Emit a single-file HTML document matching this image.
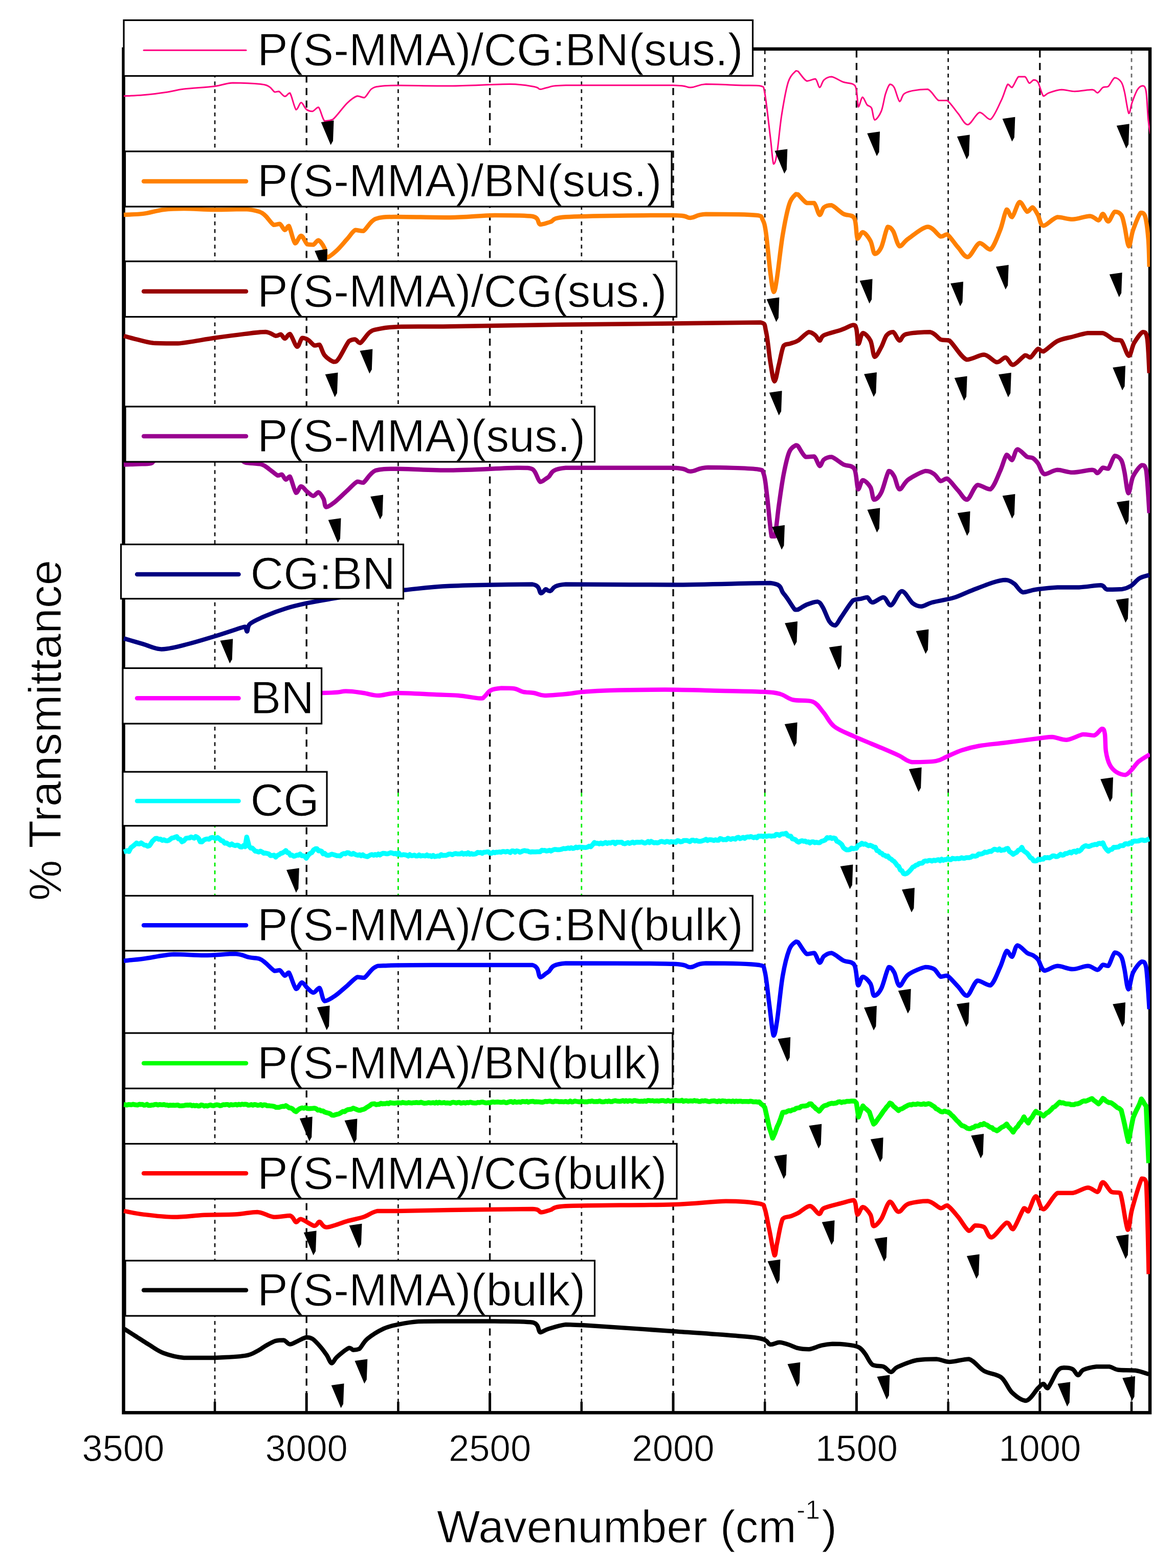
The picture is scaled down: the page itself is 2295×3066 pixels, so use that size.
<!DOCTYPE html><html><head><meta charset="utf-8"><style>html,body{margin:0;padding:0;background:#fff;overflow:hidden;}svg{display:block;}text{font-family:"Liberation Sans",Arial,sans-serif;stroke:#fff;stroke-width:1px;}</style></head><body>
<svg width="2295" height="3066" viewBox="0 0 2295 3066">
<rect x="0" y="0" width="2295" height="3066" fill="#fff"/>
<g><line x1="599.2" y1="98.5" x2="599.2" y2="2759" stroke="#111" stroke-width="3.4" stroke-dasharray="14 10.5"/><line x1="957.6" y1="98.5" x2="957.6" y2="2759" stroke="#111" stroke-width="3.4" stroke-dasharray="14 10.5"/><line x1="1316.0" y1="98.5" x2="1316.0" y2="2759" stroke="#111" stroke-width="3.4" stroke-dasharray="14 10.5"/><line x1="1674.4" y1="98.5" x2="1674.4" y2="2759" stroke="#111" stroke-width="3.4" stroke-dasharray="14 10.5"/><line x1="2032.8" y1="98.5" x2="2032.8" y2="2759" stroke="#111" stroke-width="3.4" stroke-dasharray="14 10.5"/><line x1="420.0" y1="98.5" x2="420.0" y2="1550.0" stroke="#1a1a1a" stroke-width="2.8" stroke-dasharray="7.5 7.7"/><line x1="420.0" y1="1550.0" x2="420.0" y2="1792.5" stroke="#00ee00" stroke-width="2.8" stroke-dasharray="7.5 7.7"/><line x1="420.0" y1="1792.5" x2="420.0" y2="2759" stroke="#1a1a1a" stroke-width="2.8" stroke-dasharray="7.5 7.7"/><line x1="778.4" y1="98.5" x2="778.4" y2="1550.0" stroke="#1a1a1a" stroke-width="2.8" stroke-dasharray="7.5 7.7"/><line x1="778.4" y1="1550.0" x2="778.4" y2="1792.5" stroke="#00ee00" stroke-width="2.8" stroke-dasharray="7.5 7.7"/><line x1="778.4" y1="1792.5" x2="778.4" y2="2759" stroke="#1a1a1a" stroke-width="2.8" stroke-dasharray="7.5 7.7"/><line x1="1136.8" y1="98.5" x2="1136.8" y2="1550.0" stroke="#1a1a1a" stroke-width="2.8" stroke-dasharray="7.5 7.7"/><line x1="1136.8" y1="1550.0" x2="1136.8" y2="1792.5" stroke="#00ee00" stroke-width="2.8" stroke-dasharray="7.5 7.7"/><line x1="1136.8" y1="1792.5" x2="1136.8" y2="2759" stroke="#1a1a1a" stroke-width="2.8" stroke-dasharray="7.5 7.7"/><line x1="1495.2" y1="98.5" x2="1495.2" y2="1550.0" stroke="#1a1a1a" stroke-width="2.8" stroke-dasharray="7.5 7.7"/><line x1="1495.2" y1="1550.0" x2="1495.2" y2="1792.5" stroke="#00ee00" stroke-width="2.8" stroke-dasharray="7.5 7.7"/><line x1="1495.2" y1="1792.5" x2="1495.2" y2="2759" stroke="#1a1a1a" stroke-width="2.8" stroke-dasharray="7.5 7.7"/><line x1="1853.6" y1="98.5" x2="1853.6" y2="1550.0" stroke="#1a1a1a" stroke-width="2.8" stroke-dasharray="7.5 7.7"/><line x1="1853.6" y1="1550.0" x2="1853.6" y2="1792.5" stroke="#00ee00" stroke-width="2.8" stroke-dasharray="7.5 7.7"/><line x1="1853.6" y1="1792.5" x2="1853.6" y2="2759" stroke="#1a1a1a" stroke-width="2.8" stroke-dasharray="7.5 7.7"/><line x1="2212.0" y1="98.5" x2="2212.0" y2="1550.0" stroke="#6a6a6a" stroke-width="2.8" stroke-dasharray="7.5 7.7"/><line x1="2212.0" y1="1550.0" x2="2212.0" y2="1792.5" stroke="#00ee00" stroke-width="2.8" stroke-dasharray="7.5 7.7"/><line x1="2212.0" y1="1792.5" x2="2212.0" y2="2759" stroke="#6a6a6a" stroke-width="2.8" stroke-dasharray="7.5 7.7"/></g>
<rect x="241.5" y="95.8" width="2006.5" height="2666.5" fill="none" stroke="#000" stroke-width="6.5"/>
<g><line x1="599.2" y1="2724" x2="599.2" y2="2762" stroke="#000" stroke-width="5"/><line x1="957.6" y1="2724" x2="957.6" y2="2762" stroke="#000" stroke-width="5"/><line x1="1316.0" y1="2724" x2="1316.0" y2="2762" stroke="#000" stroke-width="5"/><line x1="1674.4" y1="2724" x2="1674.4" y2="2762" stroke="#000" stroke-width="5"/><line x1="2032.8" y1="2724" x2="2032.8" y2="2762" stroke="#000" stroke-width="5"/><line x1="420.0" y1="2741" x2="420.0" y2="2762" stroke="#000" stroke-width="4.5"/><line x1="778.4" y1="2741" x2="778.4" y2="2762" stroke="#000" stroke-width="4.5"/><line x1="1136.8" y1="2741" x2="1136.8" y2="2762" stroke="#000" stroke-width="4.5"/><line x1="1495.2" y1="2741" x2="1495.2" y2="2762" stroke="#000" stroke-width="4.5"/><line x1="1853.6" y1="2741" x2="1853.6" y2="2762" stroke="#000" stroke-width="4.5"/><line x1="2212.0" y1="2741" x2="2212.0" y2="2762" stroke="#000" stroke-width="4.5"/></g>
<g clip-path="url(#plotclip)">
<path d="M242.0,187.8C248.3,187.5 265.7,187.1 280.0,185.8C294.3,184.5 314.4,181.9 327.7,179.9C341.0,177.9 344.3,175.8 359.6,173.9C374.9,172.0 403.5,170.7 419.4,168.7C435.3,166.7 439.9,162.6 455.2,161.9C470.5,161.9 499.0,163.3 511.0,164.7C523.0,166.0 522.7,167.4 527.0,170.0C531.3,172.6 534.0,178.6 537.0,180.0C540.0,180.0 541.7,178.7 545.0,178.7C548.3,180.1 553.3,188.1 556.9,188.6C560.5,188.6 563.1,181.8 566.8,181.8C570.4,186.1 575.1,211.4 578.8,214.5C582.4,214.5 585.4,200.7 588.7,200.6C592.0,200.6 595.0,210.8 598.7,213.7C602.4,216.5 606.7,217.7 610.7,217.7C614.7,217.0 618.6,209.7 622.6,209.7C626.6,212.9 630.0,232.8 634.6,236.8C639.2,236.8 643.2,236.8 650.5,233.7C657.8,227.9 670.4,209.5 678.4,201.8C686.4,194.2 692.6,189.6 698.3,187.8C703.9,187.8 707.6,191.0 712.3,191.0C717.0,188.7 721.3,177.6 726.3,173.9C731.3,170.2 733.6,169.8 742.2,168.7C750.8,167.5 755.0,167.1 778.0,167.0C801.0,167.0 843.5,168.0 880.0,168.0C916.5,167.6 969.5,164.6 997.0,164.6C1024.5,164.9 1035.2,168.1 1045.0,169.8C1054.8,171.5 1051.7,174.4 1056.0,174.6C1060.3,174.6 1062.7,172.3 1071.0,171.0C1079.3,169.7 1071.0,167.4 1106.0,166.7C1146.7,166.7 1274.4,166.7 1315.0,166.7C1349.6,167.4 1338.8,171.0 1349.6,171.0C1360.4,170.7 1364.1,165.3 1380.0,164.6C1395.9,164.6 1427.2,166.1 1445.0,166.7C1462.8,167.3 1478.2,166.7 1486.5,168.0C1494.8,170.6 1491.8,168.0 1495.0,182.0C1498.2,198.8 1503.1,245.9 1506.0,269.0C1508.9,292.1 1510.0,315.7 1512.2,320.7C1514.4,320.7 1516.4,314.9 1519.0,299.0C1521.6,283.1 1524.3,248.2 1528.0,225.0C1531.7,201.8 1536.3,174.4 1541.0,160.0C1545.7,145.6 1552.8,141.9 1556.0,138.5C1559.2,138.5 1556.5,138.5 1560.0,139.4C1563.5,142.7 1571.4,155.9 1577.0,158.4C1582.6,158.4 1589.6,154.2 1593.8,154.2C1598.0,156.3 1599.5,170.7 1602.3,171.0C1605.1,171.0 1606.8,159.8 1610.7,156.3C1614.6,152.8 1619.2,150.0 1625.5,150.0C1631.8,150.7 1641.8,158.1 1648.8,160.5C1655.8,162.9 1663.6,162.2 1667.8,164.7C1672.0,167.2 1672.2,167.9 1674.0,175.3C1675.8,182.7 1676.3,206.6 1678.3,209.0C1680.3,209.0 1683.2,190.7 1686.0,190.0C1688.8,190.0 1692.0,201.4 1695.0,204.9C1698.0,208.4 1701.2,206.3 1703.7,211.2C1706.2,216.1 1706.8,233.4 1710.0,234.5C1713.2,234.5 1719.2,226.0 1722.7,217.6C1726.2,209.2 1728.2,192.6 1731.0,183.8C1733.8,175.0 1736.8,166.8 1739.6,164.7C1742.4,164.7 1744.8,165.4 1748.0,171.0C1751.2,176.6 1755.4,196.4 1758.6,198.5C1761.8,198.5 1762.8,187.3 1767.0,183.8C1771.2,180.3 1776.2,179.0 1784.0,177.4C1791.8,175.8 1805.1,174.5 1813.6,174.5C1822.0,177.7 1828.4,192.8 1834.7,196.4C1841.0,196.4 1845.2,196.4 1851.6,196.4C1857.9,200.6 1866.1,213.9 1872.8,221.8C1879.5,229.7 1884.8,243.8 1891.8,243.8C1898.8,243.5 1907.6,221.4 1915.0,219.7C1922.4,219.7 1929.0,233.6 1936.0,233.6C1943.0,229.7 1951.6,207.9 1957.3,196.4C1963.0,184.9 1966.5,168.9 1970.0,164.7C1973.5,164.7 1974.9,171.0 1978.4,171.0C1981.9,168.6 1986.8,153.5 1991.0,150.0C1995.2,150.0 2000.3,150.0 2003.8,150.0C2007.3,152.1 2009.4,161.5 2012.2,162.6C2015.0,162.6 2017.9,156.7 2020.7,156.3C2023.5,156.3 2025.8,156.3 2029.0,160.5C2032.2,165.8 2036.2,184.5 2039.7,188.0C2043.2,188.0 2044.3,183.7 2050.3,181.6C2056.3,179.5 2067.2,175.8 2075.6,175.3C2084.0,175.3 2091.1,178.7 2101.0,178.7C2110.9,178.7 2127.4,175.3 2134.8,175.3C2142.2,175.8 2141.9,181.6 2145.4,181.6C2148.9,180.9 2152.5,173.1 2156.0,171.0C2159.5,169.0 2162.6,171.0 2166.5,169.0C2170.4,165.8 2175.0,153.4 2179.2,152.0C2183.4,152.0 2188.7,155.9 2191.9,160.5C2195.1,165.1 2195.7,169.3 2198.2,179.5C2200.7,189.7 2204.2,218.3 2206.7,221.8C2209.2,221.8 2210.2,208.4 2213.0,200.7C2215.8,192.9 2220.1,180.8 2223.6,175.3C2227.1,169.8 2231.2,167.7 2234.0,167.7C2236.8,168.4 2238.7,168.4 2240.5,179.5C2242.3,190.6 2243.3,220.8 2244.7,234.5C2246.1,248.2 2248.3,257.4 2249.0,262.0" fill="none" stroke="#FF0080" stroke-width="3.0" stroke-linejoin="round" stroke-linecap="butt"/>
<path d="M242.0,419.9C248.3,419.6 266.9,419.5 279.9,417.9C292.8,416.2 306.4,411.6 319.7,410.0C333.0,408.4 343.0,408.0 359.6,408.0C376.2,408.0 399.5,409.8 419.4,410.0C439.3,410.0 464.4,409.0 479.0,409.0C493.6,409.7 500.3,411.8 507.0,414.0C513.7,416.2 514.3,417.7 519.0,422.0C523.7,426.3 530.3,437.2 535.0,439.8C539.7,439.8 543.4,437.8 547.0,437.8C550.6,439.5 553.9,449.1 556.9,449.8C559.9,449.8 561.5,441.8 564.8,441.8C568.1,446.1 572.8,472.5 576.8,475.7C580.8,475.7 584.7,461.0 588.7,461.0C592.7,461.3 596.7,474.8 600.7,477.7C604.7,478.5 609.0,478.5 612.6,478.5C616.2,477.2 618.9,469.7 622.6,469.7C626.3,470.9 631.9,480.0 634.6,485.7C637.3,491.4 634.6,503.0 638.6,503.6C642.6,503.6 651.9,495.6 658.5,489.6C665.1,483.6 672.4,474.3 678.4,467.7C684.4,461.1 689.1,452.4 694.4,449.8C699.7,449.8 703.7,451.8 710.3,451.8C716.9,448.1 722.9,432.5 734.2,427.9C745.5,423.9 753.7,424.3 778.0,423.9C802.3,423.9 848.5,425.2 880.0,425.2C911.5,424.7 940.2,421.3 967.0,420.9C993.8,420.9 1026.2,420.9 1041.0,423.0C1055.8,426.0 1050.2,437.2 1056.0,439.0C1061.8,439.0 1067.4,436.4 1075.7,434.0C1084.0,431.6 1075.7,426.5 1106.0,424.3C1145.8,422.1 1274.2,420.9 1314.8,420.9C1349.6,421.2 1338.7,426.0 1349.6,426.0C1360.5,425.6 1358.3,419.6 1380.0,418.7C1401.7,418.7 1461.5,419.1 1480.0,420.9C1490.9,422.7 1488.0,423.8 1490.9,429.6C1493.8,435.4 1494.9,438.2 1497.4,455.6C1499.9,473.0 1503.5,514.7 1506.0,533.9C1508.5,553.1 1510.4,569.4 1512.6,570.9C1514.8,570.9 1516.1,561.1 1519.0,542.6C1521.9,524.1 1526.0,483.9 1530.0,460.0C1534.0,436.1 1538.7,412.4 1543.0,399.0C1547.3,385.6 1553.2,382.7 1556.0,379.6C1558.8,379.6 1556.5,379.6 1560.0,380.2C1563.5,383.1 1571.7,394.2 1577.0,397.0C1582.3,397.0 1587.5,397.0 1591.7,397.0C1595.9,400.9 1599.1,418.9 1602.3,420.3C1605.5,420.3 1606.8,408.7 1610.7,405.5C1614.6,402.3 1619.2,401.3 1625.5,401.3C1631.8,403.4 1641.4,414.0 1648.8,418.2C1656.2,422.4 1665.4,418.5 1670.0,426.6C1674.6,434.7 1673.4,462.2 1676.2,466.8C1679.0,466.8 1682.6,454.1 1686.8,454.1C1691.0,454.8 1697.7,463.9 1701.6,471.0C1705.5,478.1 1706.5,494.3 1710.0,496.4C1713.5,496.4 1718.5,492.5 1722.7,483.7C1726.9,474.9 1731.5,448.9 1735.4,443.6C1739.3,443.6 1742.1,445.7 1746.0,452.0C1749.9,458.3 1753.7,479.1 1758.6,481.6C1763.5,481.6 1766.4,473.1 1775.6,466.8C1784.8,460.5 1803.0,444.3 1813.6,443.6C1824.2,443.6 1832.7,460.2 1839.0,462.6C1845.3,462.6 1846.0,458.3 1851.6,458.3C1857.2,461.8 1866.1,476.3 1872.8,483.7C1879.5,491.1 1884.8,502.7 1891.8,502.7C1898.8,501.3 1907.6,477.6 1915.0,475.2C1922.4,475.2 1929.3,488.0 1936.0,488.0C1942.7,483.8 1949.9,462.9 1955.2,449.9C1960.5,436.8 1964.0,413.9 1967.9,409.7C1971.8,409.7 1974.2,424.5 1978.4,424.5C1982.6,422.1 1988.3,396.8 1993.2,395.0C1998.1,395.0 2003.8,412.2 2008.0,414.0C2012.2,414.0 2015.1,405.5 2018.6,405.5C2022.1,406.6 2025.5,414.3 2029.0,420.3C2032.5,426.3 2033.3,440.7 2039.7,441.4C2046.1,441.4 2057.7,426.6 2067.2,424.5C2076.7,424.5 2086.2,428.8 2096.8,428.8C2107.4,428.4 2122.2,422.4 2130.6,422.4C2139.0,422.8 2143.3,430.9 2147.5,430.9C2151.7,430.2 2152.8,418.2 2156.0,418.2C2159.2,418.6 2162.6,433.0 2166.5,433.0C2170.4,432.3 2175.0,416.1 2179.2,414.0C2183.4,414.0 2188.7,415.7 2191.9,420.3C2195.1,424.9 2195.7,431.2 2198.2,441.4C2200.7,451.6 2203.9,480.2 2206.7,481.6C2209.5,481.6 2211.1,460.8 2215.0,449.9C2218.9,439.0 2226.0,420.6 2229.9,416.0C2233.8,416.0 2235.9,416.0 2238.4,422.4C2240.9,430.9 2243.3,450.2 2244.7,466.8C2246.1,483.4 2246.5,512.6 2246.8,521.7" fill="none" stroke="#FF8000" stroke-width="8.5" stroke-linejoin="round" stroke-linecap="butt"/>
<path d="M242.0,656.8C245.7,657.8 254.3,660.5 263.9,662.8C273.5,665.1 285.9,669.3 299.8,670.8C313.8,671.6 327.7,671.6 347.6,671.6C367.5,669.9 397.5,663.9 419.4,660.8C441.3,657.7 462.4,654.9 479.0,652.9C495.6,650.9 509.0,648.9 519.0,648.9C529.0,649.5 534.0,656.0 539.0,656.8C544.0,656.8 545.9,653.7 548.9,653.7C551.9,654.6 553.9,662.0 556.9,662.0C559.9,661.9 562.8,652.9 566.8,652.9C570.8,655.6 576.8,676.7 580.8,678.0C584.8,678.0 587.1,663.0 590.7,660.8C594.4,660.8 598.7,662.3 602.7,664.8C606.7,667.3 611.0,674.1 614.6,675.6C618.2,675.6 621.3,674.0 624.6,674.0C627.9,677.2 630.0,689.1 634.6,694.7C639.2,700.3 647.9,706.5 652.5,707.5C657.1,707.5 657.5,707.5 662.5,700.7C667.5,693.9 677.1,673.0 682.4,666.8C687.7,663.6 690.8,663.6 694.4,663.6C698.0,664.3 699.6,670.8 704.3,670.8C708.9,668.5 716.6,654.5 722.3,650.0C727.9,645.5 728.9,645.6 738.2,643.7C747.5,641.9 754.4,639.8 778.0,638.9C801.6,638.3 826.8,638.9 880.0,638.3C933.2,637.6 1024.5,635.8 1097.0,634.8C1169.5,633.8 1249.9,633.3 1314.8,632.6C1379.7,631.9 1456.1,630.4 1486.5,630.4C1497.4,632.9 1494.2,634.8 1497.4,647.8C1500.7,660.8 1503.2,692.4 1506.0,708.7C1508.8,725.0 1511.2,745.0 1514.0,745.7C1516.8,745.7 1519.6,724.6 1522.6,713.0C1525.6,701.4 1528.3,682.9 1532.0,676.0C1535.7,671.7 1540.3,673.4 1545.0,671.7C1549.7,670.0 1554.0,669.8 1560.0,666.0C1566.0,662.2 1575.4,651.0 1581.0,649.2C1586.6,649.2 1590.2,652.7 1593.8,655.5C1597.3,658.3 1599.5,666.0 1602.3,666.0C1605.1,666.0 1603.7,659.0 1610.7,655.5C1617.7,652.0 1635.0,648.3 1644.5,645.0C1654.0,641.7 1662.9,636.0 1667.8,635.6C1672.7,635.6 1672.2,636.7 1674.0,642.8C1675.8,648.9 1676.2,671.0 1678.3,672.4C1680.4,672.4 1682.9,652.4 1686.8,651.3C1690.7,651.3 1697.7,658.2 1701.6,666.0C1705.5,673.8 1706.5,695.7 1710.0,697.8C1713.5,697.8 1718.8,685.8 1722.7,678.8C1726.6,671.8 1729.4,660.4 1733.3,655.5C1737.2,650.6 1741.8,649.2 1746.0,649.2C1750.2,651.0 1754.4,665.3 1758.6,666.0C1762.8,666.0 1761.4,656.2 1771.3,653.4C1781.2,650.6 1806.5,649.2 1817.8,649.2C1829.1,651.0 1832.7,661.2 1839.0,664.0C1845.3,666.0 1847.5,664.0 1855.9,666.0C1864.4,672.5 1878.4,698.7 1889.7,703.3C1901.0,703.3 1913.7,693.5 1923.5,693.5C1933.3,694.3 1941.8,707.4 1948.8,708.3C1955.8,708.3 1960.4,699.0 1965.7,699.0C1971.0,699.9 1974.2,713.4 1980.5,713.4C1986.8,712.7 1998.2,697.2 2003.8,694.8C2009.4,694.8 2010.1,699.0 2014.3,699.0C2018.5,696.9 2024.9,684.1 2029.1,682.1C2033.3,682.1 2033.4,687.2 2039.7,687.2C2046.0,684.7 2057.7,671.7 2067.2,666.9C2076.7,662.1 2086.9,661.1 2096.8,658.5C2106.7,655.9 2116.5,652.5 2126.4,651.3C2136.3,651.3 2147.6,651.3 2156.0,651.3C2164.4,653.4 2171.0,661.5 2177.0,664.0C2183.0,666.0 2187.0,664.0 2191.9,666.0C2196.8,671.3 2202.5,695.0 2206.7,695.7C2210.9,695.7 2212.6,678.0 2217.2,670.3C2221.8,662.5 2229.9,650.6 2234.1,649.2C2238.3,649.2 2240.5,649.2 2242.6,661.8C2244.7,675.2 2246.1,718.2 2246.8,729.5" fill="none" stroke="#990000" stroke-width="8.5" stroke-linejoin="round" stroke-linecap="butt"/>
<path d="M242.0,908.5C246.7,908.3 261.2,907.9 270.0,907.5C278.8,907.1 288.3,907.4 295.0,906.0C301.7,904.6 295.0,900.3 310.0,899.0C337.5,898.0 431.7,898.0 460.0,898.0C480.0,898.9 471.5,902.8 480.0,904.5C488.5,906.2 503.2,905.8 511.0,908.0C518.8,910.2 521.7,914.3 527.0,917.9C532.3,921.5 538.9,928.1 542.9,929.8C546.9,929.8 548.2,927.8 550.9,927.8C553.5,929.1 556.1,937.1 558.8,937.8C561.4,937.8 563.5,931.8 566.8,931.8C570.1,936.1 575.1,960.5 578.8,963.7C582.4,963.7 585.1,951.2 588.7,950.9C592.4,950.9 596.7,958.6 600.7,961.7C604.7,964.8 609.0,969.6 612.6,969.7C616.2,969.7 619.3,962.5 622.6,962.5C625.9,963.5 630.1,970.9 632.6,975.7C635.1,980.6 634.1,990.6 637.8,991.6C641.4,991.6 647.7,986.9 654.5,981.6C661.3,976.3 671.1,966.3 678.4,959.7C685.7,953.1 693.0,944.4 698.3,941.8C703.6,941.8 704.3,943.8 710.3,943.8C716.3,940.1 722.9,924.4 734.2,919.9C745.5,916.7 753.7,916.8 778.0,916.7C802.3,916.7 841.3,919.6 880.0,919.6C918.7,919.3 983.6,915.2 1010.4,914.8C1037.2,914.8 1033.4,914.8 1041.0,917.4C1048.6,922.0 1051.0,939.5 1056.0,942.2C1061.0,942.2 1063.0,938.1 1071.3,933.5C1079.6,928.9 1071.3,917.9 1106.0,914.8C1146.6,914.8 1274.2,914.8 1314.8,914.8C1349.6,915.9 1338.0,921.7 1349.6,921.7C1361.2,921.6 1362.6,914.7 1384.3,914.0C1406.0,914.0 1461.9,915.2 1480.0,917.4C1493.0,919.6 1489.7,918.2 1493.0,927.0C1496.3,935.8 1497.0,950.1 1499.6,970.4C1502.1,990.7 1505.8,1035.7 1508.3,1048.7C1510.8,1048.7 1512.4,1048.7 1514.8,1048.7C1517.2,1038.5 1519.7,1008.1 1522.6,987.8C1525.5,967.5 1528.6,944.4 1532.0,927.0C1535.4,909.6 1539.0,892.9 1543.0,883.5C1547.0,874.1 1553.2,872.3 1556.0,870.4C1558.8,870.4 1556.9,870.4 1560.0,872.3C1563.1,876.1 1569.5,890.0 1574.8,893.4C1580.1,893.4 1587.1,892.6 1591.7,892.6C1596.3,895.6 1599.1,910.2 1602.3,911.2C1605.5,911.2 1606.8,901.5 1610.7,898.5C1614.6,895.5 1619.2,893.4 1625.5,893.4C1631.8,895.0 1641.4,904.3 1648.8,908.2C1656.2,912.1 1665.2,908.5 1670.0,916.6C1674.8,924.7 1674.7,953.1 1677.5,956.8C1680.3,956.8 1682.8,939.7 1686.8,939.0C1690.8,939.0 1697.9,946.2 1701.6,952.6C1705.3,959.0 1705.3,975.4 1708.8,977.1C1712.3,977.1 1717.9,972.5 1722.7,963.1C1727.5,953.7 1733.3,926.2 1737.5,920.9C1741.7,920.9 1744.5,925.4 1748.0,931.4C1751.5,937.4 1754.0,955.7 1758.6,956.8C1763.2,956.8 1767.1,943.8 1775.6,937.8C1784.1,931.8 1801.0,922.7 1809.4,920.9C1817.9,920.9 1821.4,923.9 1826.3,927.2C1831.2,930.5 1834.8,939.3 1839.0,940.7C1843.2,940.7 1846.0,935.7 1851.6,935.7C1857.2,938.7 1866.3,952.0 1872.8,958.9C1879.3,965.8 1884.2,977.1 1890.5,977.1C1896.8,975.3 1903.2,951.7 1910.8,948.3C1918.4,948.3 1928.6,956.8 1936.0,956.8C1943.4,952.2 1949.9,932.2 1955.2,920.9C1960.5,909.6 1964.0,892.7 1967.9,889.2C1971.8,889.2 1974.9,899.7 1978.4,899.7C1981.9,897.9 1984.1,879.7 1989.0,878.6C1993.9,878.6 2003.1,890.6 2008.0,893.4C2012.9,895.5 2015.1,893.4 2018.6,895.5C2022.1,897.6 2025.2,900.7 2029.1,906.0C2033.0,911.3 2035.5,925.1 2041.8,927.2C2048.2,927.2 2058.0,919.4 2067.2,918.8C2076.4,918.8 2085.5,923.8 2096.8,923.8C2108.1,923.8 2126.7,918.8 2134.8,918.8C2142.9,919.0 2141.9,925.1 2145.4,925.1C2148.9,924.4 2152.5,915.9 2156.0,914.5C2159.5,914.5 2162.6,916.6 2166.5,916.6C2170.4,912.7 2175.0,894.1 2179.2,891.3C2183.4,891.3 2188.7,894.4 2191.9,899.7C2195.1,905.0 2195.9,912.2 2198.2,923.0C2200.5,933.8 2203.0,963.0 2205.8,964.4C2208.6,964.4 2210.7,940.5 2215.1,931.4C2219.5,922.2 2227.8,911.6 2232.0,909.5C2236.2,909.5 2238.0,909.5 2240.5,918.8C2243.0,934.4 2245.8,989.2 2246.8,1003.3" fill="none" stroke="#990090" stroke-width="8.5" stroke-linejoin="round" stroke-linecap="butt"/>
<path d="M242.0,1248.3C248.3,1250.2 267.6,1255.9 279.9,1259.4C292.2,1262.9 302.4,1269.1 315.7,1269.4C329.0,1269.4 342.3,1265.6 359.6,1261.4C376.9,1257.2 400.8,1250.0 419.4,1244.3C438.0,1238.6 461.2,1230.6 471.2,1227.5C479.1,1225.5 477.1,1225.5 479.1,1225.5C481.1,1226.7 481.4,1234.7 483.1,1234.7C484.8,1233.7 483.1,1224.6 489.1,1219.6C495.1,1214.5 507.4,1209.4 519.0,1204.4C530.6,1199.4 545.5,1193.8 558.8,1189.7C572.1,1185.6 584.8,1182.7 598.7,1179.7C612.7,1176.7 625.6,1174.5 642.5,1171.7C659.4,1168.9 675.4,1166.0 700.0,1163.0C724.6,1160.0 760.0,1156.7 790.0,1153.8C820.0,1150.9 838.2,1147.6 880.0,1145.7C921.8,1143.8 1011.4,1142.6 1041.0,1142.6C1057.4,1145.0 1053.1,1158.4 1057.4,1160.0C1061.7,1160.0 1064.0,1152.9 1067.0,1152.2C1070.0,1152.2 1069.2,1155.7 1075.7,1155.7C1082.2,1154.1 1075.7,1144.6 1106.0,1142.6C1145.8,1142.6 1248.1,1143.5 1314.8,1143.5C1381.5,1143.1 1469.8,1140.0 1506.0,1140.0C1532.0,1142.9 1524.0,1152.2 1532.0,1160.9C1540.0,1169.6 1549.3,1187.0 1554.0,1192.2C1558.7,1192.2 1556.2,1192.2 1560.0,1192.0C1563.8,1190.3 1570.7,1184.9 1577.0,1182.3C1583.3,1179.7 1592.7,1176.4 1598.0,1176.4C1603.3,1177.3 1604.7,1181.3 1608.6,1187.8C1612.5,1194.3 1617.3,1209.3 1621.3,1215.2C1625.3,1221.1 1628.8,1222.9 1632.7,1222.9C1636.6,1221.5 1638.7,1215.0 1644.5,1206.8C1650.3,1198.6 1661.5,1179.8 1667.8,1173.8C1674.1,1170.9 1678.0,1171.9 1682.6,1170.9C1687.2,1169.9 1691.3,1167.9 1695.2,1167.9C1699.1,1169.1 1700.5,1178.0 1705.8,1178.0C1711.1,1178.0 1721.0,1167.9 1727.0,1167.9C1733.0,1168.8 1735.7,1183.6 1741.7,1183.6C1747.7,1181.6 1755.9,1156.8 1762.9,1156.1C1770.0,1156.1 1777.7,1174.4 1784.0,1179.3C1790.3,1184.2 1794.7,1185.7 1801.0,1185.7C1807.3,1185.5 1811.5,1180.8 1822.0,1178.0C1832.5,1175.2 1851.6,1172.6 1864.3,1168.8C1877.0,1165.0 1885.3,1160.1 1898.0,1155.2C1910.7,1150.3 1929.1,1142.7 1940.4,1139.2C1951.7,1135.7 1958.7,1134.0 1965.7,1134.0C1972.7,1134.3 1976.9,1137.3 1982.6,1141.3C1988.2,1145.3 1992.5,1156.3 1999.6,1158.2C2006.7,1158.2 2013.7,1154.3 2025.0,1152.7C2036.3,1151.1 2053.1,1149.2 2067.2,1148.5C2081.3,1148.5 2095.4,1148.5 2109.5,1148.5C2123.6,1147.8 2142.5,1144.2 2151.7,1144.2C2160.8,1144.9 2157.3,1151.4 2164.4,1152.7C2171.5,1152.7 2186.2,1152.7 2194.0,1151.9C2201.8,1150.7 2205.4,1149.0 2211.0,1145.5C2216.6,1142.0 2221.8,1134.2 2227.8,1130.7C2233.8,1127.2 2243.6,1125.5 2246.8,1124.4" fill="none" stroke="#000080" stroke-width="8.5" stroke-linejoin="round" stroke-linecap="butt"/>
<path d="M242.0,1356.0C306.6,1355.8 557.3,1355.7 629.6,1355.0C676.0,1354.3 662.6,1351.6 676.0,1351.6C689.4,1351.6 699.4,1353.6 710.0,1355.0C720.6,1356.4 728.2,1360.0 739.5,1360.0C750.8,1360.0 758.5,1355.3 777.5,1355.0C796.5,1355.0 833.9,1357.5 853.6,1358.3C873.3,1359.1 881.8,1358.8 895.9,1360.0C910.0,1361.2 929.5,1365.1 938.0,1365.5C946.5,1365.5 943.1,1365.2 946.6,1362.6C950.1,1360.0 953.7,1352.7 959.3,1349.9C964.9,1347.1 972.7,1346.2 980.4,1345.6C988.1,1345.6 998.7,1345.6 1005.7,1346.5C1012.8,1347.7 1016.4,1351.4 1022.7,1352.8C1029.0,1354.2 1036.8,1353.8 1043.8,1355.0C1050.8,1356.2 1054.3,1359.7 1064.9,1360.0C1075.5,1360.0 1094.5,1358.2 1107.2,1357.0C1119.9,1355.8 1126.9,1354.0 1141.0,1352.8C1155.1,1351.6 1165.2,1350.6 1191.7,1349.9C1218.2,1349.2 1264.2,1348.6 1300.0,1348.6C1335.8,1348.7 1374.9,1350.0 1406.8,1350.7C1438.7,1351.4 1471.6,1351.8 1491.3,1352.8C1511.0,1353.8 1515.2,1354.4 1525.1,1357.0C1535.0,1359.6 1539.9,1366.0 1550.5,1368.5C1561.1,1371.0 1578.6,1368.5 1588.5,1371.9C1598.4,1376.0 1602.7,1384.9 1609.7,1393.0C1616.8,1401.1 1621.0,1412.8 1630.8,1420.5C1640.6,1428.2 1653.3,1432.5 1668.8,1439.5C1684.3,1446.5 1709.0,1456.4 1723.8,1462.7C1738.6,1469.0 1747.7,1472.9 1757.6,1477.5C1767.5,1482.1 1771.0,1488.4 1783.0,1490.2C1795.0,1490.2 1818.2,1489.9 1829.5,1488.1C1840.8,1486.3 1842.1,1483.1 1850.6,1479.6C1859.0,1476.1 1869.6,1470.5 1880.2,1467.0C1890.8,1463.5 1899.8,1461.0 1914.0,1458.5C1928.2,1456.0 1945.4,1454.7 1965.2,1452.2C1985.0,1449.7 2017.4,1445.4 2032.6,1443.5C2047.8,1441.6 2047.8,1440.9 2056.5,1440.9C2065.2,1441.4 2074.7,1446.7 2084.8,1446.7C2095.0,1445.9 2108.4,1437.4 2117.4,1435.9C2126.4,1435.9 2132.9,1438.0 2139.1,1438.0C2145.2,1436.2 2150.9,1425.5 2154.3,1425.0C2157.8,1425.0 2158.5,1427.4 2159.8,1434.8C2161.1,1442.2 2160.4,1459.4 2162.0,1469.6C2163.6,1479.8 2166.2,1489.0 2169.6,1495.7C2173.0,1502.4 2177.5,1506.5 2182.6,1509.8C2187.7,1513.0 2194.9,1515.2 2200.0,1515.2C2205.1,1514.3 2208.7,1508.7 2213.0,1504.3C2217.3,1499.9 2220.2,1493.9 2226.0,1489.0C2231.8,1484.1 2244.2,1477.3 2247.8,1475.0" fill="none" stroke="#FF00FF" stroke-width="8.5" stroke-linejoin="round" stroke-linecap="butt"/>
<polyline points="242.0,1665.7 245.3,1664.7 248.7,1663.2 252.0,1665.1 256.0,1657.4 259.9,1654.5 263.9,1651.2 266.9,1648.3 269.9,1650.0 272.9,1650.2 275.9,1648.1 279.1,1650.4 282.3,1652.6 285.4,1652.7 288.6,1654.8 291.8,1653.8 294.8,1649.8 297.8,1645.0 300.8,1642.2 303.8,1639.4 307.1,1639.3 310.4,1641.1 313.8,1640.8 317.1,1643.3 320.4,1642.0 323.7,1643.8 326.8,1644.1 330.0,1643.2 333.1,1640.9 336.2,1638.6 339.3,1638.1 342.5,1636.8 345.6,1635.9 348.9,1640.4 352.3,1640.9 355.6,1646.0 359.6,1644.1 363.5,1639.3 367.5,1638.6 370.5,1638.6 373.5,1636.5 376.5,1637.6 379.5,1638.9 382.5,1635.7 385.5,1637.0 388.5,1639.9 391.5,1646.1 394.9,1646.3 398.3,1642.8 401.7,1641.1 405.2,1640.4 408.6,1641.1 412.0,1638.2 415.4,1637.5 418.7,1638.6 422.0,1639.8 425.3,1637.6 428.8,1640.2 432.3,1643.7 435.8,1644.5 439.3,1648.9 442.7,1648.2 446.1,1650.5 449.5,1652.5 453.0,1650.0 456.4,1652.5 459.8,1653.4 463.2,1652.5 466.4,1653.2 469.6,1656.1 472.7,1656.3 475.9,1653.4 479.1,1655.7 482.3,1636.7 487.1,1654.9 490.1,1658.2 493.1,1658.2 496.1,1661.3 499.1,1664.4 502.4,1664.8 505.7,1666.1 509.1,1664.3 512.4,1665.9 515.7,1668.4 519.0,1668.1 522.3,1668.8 525.7,1669.8 529.0,1673.1 532.3,1672.8 535.7,1672.0 539.0,1676.0 542.3,1672.6 545.6,1671.2 548.9,1668.7 552.2,1667.8 555.5,1665.7 558.8,1663.1 561.8,1667.3 564.8,1667.7 567.8,1672.4 570.8,1672.0 574.0,1674.2 577.2,1673.7 580.3,1672.0 583.5,1672.2 586.7,1670.0 589.7,1673.2 592.7,1673.4 595.7,1674.1 598.7,1678.2 602.3,1672.6 605.9,1669.0 609.4,1667.3 613.0,1662.0 616.6,1659.6 619.6,1659.6 622.6,1663.8 625.6,1663.5 628.6,1664.5 631.6,1669.6 634.6,1668.5 638.0,1671.9 641.4,1672.6 644.8,1671.8 648.3,1670.2 651.7,1671.0 655.1,1672.1 658.5,1673.3 661.8,1673.3 665.1,1673.7 668.5,1670.6 671.8,1669.0 675.1,1669.7 678.4,1667.3 681.5,1667.5 684.5,1669.6 687.6,1670.5 690.7,1668.6 693.7,1670.4 696.8,1671.7 699.9,1672.3 703.0,1671.3 706.0,1673.5 709.1,1671.3 712.2,1673.7 715.2,1674.3 718.3,1675.1 721.3,1673.3 724.4,1671.6 727.4,1671.0 730.5,1672.4 733.5,1670.8 736.5,1672.1 739.6,1669.8 742.6,1671.9 745.7,1669.6 748.7,1668.5 751.8,1668.7 754.8,1669.4 757.8,1669.4 760.9,1668.4 763.9,1667.3 767.0,1668.1 770.0,1669.4 773.1,1668.4 776.2,1670.4 779.3,1667.7 782.4,1671.7 785.6,1671.8 788.7,1671.1 791.8,1671.5 794.9,1672.1 798.0,1674.0 801.0,1671.0 804.1,1673.2 807.1,1672.9 810.2,1672.1 813.2,1673.7 816.3,1673.7 819.3,1671.6 822.4,1673.8 825.4,1673.0 828.5,1673.2 831.5,1673.8 834.6,1671.7 837.6,1673.8 840.7,1673.0 843.7,1674.9 846.8,1672.7 849.8,1674.9 852.9,1674.3 856.1,1673.6 859.2,1674.3 862.3,1671.0 865.5,1672.8 868.6,1672.6 871.8,1672.6 874.9,1671.4 878.0,1669.9 881.2,1670.1 884.3,1671.3 887.5,1669.6 890.6,1668.9 893.7,1669.7 896.9,1669.8 900.0,1669.8 903.0,1667.8 906.1,1670.4 909.1,1668.7 912.2,1670.1 915.2,1667.2 918.3,1670.5 921.3,1669.0 924.4,1670.3 927.4,1670.1 930.5,1669.4 933.5,1666.7 936.5,1667.4 939.6,1666.8 942.6,1668.7 945.7,1666.4 948.7,1666.4 951.8,1665.8 954.8,1665.7 957.9,1668.5 960.9,1668.5 964.0,1666.2 967.0,1667.4 970.1,1666.3 973.1,1666.4 976.2,1665.8 979.3,1666.6 982.3,1665.1 985.4,1665.1 988.5,1665.9 991.5,1664.7 994.6,1665.5 997.7,1667.2 1000.7,1663.8 1003.8,1664.0 1006.9,1666.4 1009.9,1663.7 1013.0,1664.3 1016.1,1666.4 1019.1,1665.4 1022.2,1663.9 1025.3,1663.2 1028.4,1663.9 1031.4,1663.9 1034.5,1665.6 1037.6,1666.2 1040.6,1665.4 1043.7,1665.7 1046.8,1665.8 1049.8,1665.5 1052.9,1665.5 1056.0,1665.6 1059.0,1662.4 1062.1,1663.1 1065.2,1662.8 1068.2,1664.0 1071.3,1663.5 1074.3,1662.6 1077.4,1664.1 1080.4,1662.2 1083.4,1661.1 1086.4,1661.1 1089.5,1661.4 1092.5,1661.6 1095.5,1661.1 1098.5,1660.3 1101.6,1659.1 1104.6,1659.6 1107.6,1659.0 1110.6,1658.1 1113.7,1659.1 1116.7,1657.5 1119.7,1659.0 1122.7,1658.5 1125.8,1656.3 1128.8,1657.8 1131.8,1656.4 1134.8,1656.5 1137.9,1656.7 1140.9,1656.9 1144.4,1657.3 1148.0,1656.6 1151.5,1654.6 1155.0,1655.7 1158.5,1651.7 1162.0,1647.3 1165.1,1649.1 1168.3,1648.8 1171.4,1650.2 1174.5,1648.2 1177.7,1650.0 1180.8,1648.8 1183.9,1647.2 1187.1,1649.4 1190.2,1647.8 1193.3,1648.6 1196.5,1646.9 1199.6,1646.7 1202.7,1649.9 1205.9,1646.7 1209.0,1647.0 1212.1,1647.0 1215.3,1646.7 1218.4,1649.3 1221.5,1649.9 1224.7,1648.6 1227.8,1647.6 1230.8,1649.3 1233.8,1647.9 1236.8,1646.5 1239.8,1648.4 1242.8,1647.1 1245.8,1646.8 1248.8,1646.9 1251.8,1647.0 1254.8,1646.2 1257.8,1647.7 1260.8,1648.6 1263.8,1647.4 1266.8,1645.3 1269.8,1647.7 1272.8,1645.2 1275.8,1646.8 1278.8,1648.1 1281.8,1647.4 1284.8,1648.2 1287.8,1647.5 1290.8,1645.7 1293.8,1645.2 1296.8,1646.2 1299.8,1647.0 1302.8,1645.3 1305.8,1645.6 1308.8,1647.0 1311.8,1645.5 1314.8,1646.4 1317.9,1646.0 1321.0,1647.2 1324.1,1643.8 1327.2,1644.2 1330.3,1646.2 1333.4,1645.6 1336.5,1643.4 1339.6,1643.4 1342.7,1643.5 1345.8,1644.5 1348.9,1645.7 1352.0,1643.1 1355.1,1642.8 1358.2,1644.4 1361.4,1643.3 1364.5,1644.7 1367.6,1645.1 1370.7,1644.7 1373.8,1643.7 1376.9,1642.8 1380.0,1641.0 1383.1,1643.6 1386.2,1641.9 1389.3,1642.0 1392.4,1642.5 1395.5,1643.5 1398.6,1641.9 1401.7,1643.0 1404.7,1643.0 1407.7,1639.6 1410.7,1640.4 1413.7,1642.1 1416.7,1641.5 1419.7,1642.1 1422.7,1639.0 1425.7,1640.1 1428.7,1641.4 1431.7,1639.7 1434.7,1640.0 1437.7,1640.9 1440.7,1637.9 1443.7,1637.2 1446.7,1639.9 1449.7,1638.8 1452.7,1637.2 1455.7,1639.3 1458.7,1637.1 1461.7,1636.4 1464.7,1636.8 1467.7,1635.7 1470.7,1636.8 1473.7,1638.0 1476.7,1636.6 1479.7,1638.2 1482.7,1634.7 1485.7,1635.0 1488.7,1634.7 1491.9,1635.9 1495.1,1634.2 1498.3,1635.5 1501.4,1634.6 1504.6,1634.4 1507.8,1635.0 1511.0,1634.4 1514.2,1634.5 1517.4,1631.4 1520.6,1631.8 1523.8,1633.6 1526.9,1631.1 1530.1,1630.4 1533.3,1630.7 1536.5,1629.3 1539.6,1633.7 1542.7,1635.0 1545.8,1635.1 1549.0,1640.3 1552.1,1640.8 1555.2,1641.9 1558.3,1645.2 1561.4,1646.7 1564.6,1644.8 1567.7,1643.9 1570.9,1644.9 1574.0,1644.6 1577.2,1646.6 1580.3,1646.1 1583.4,1648.4 1586.6,1646.3 1589.7,1645.9 1592.9,1647.8 1596.0,1646.9 1599.2,1647.8 1602.3,1647.8 1606.0,1645.0 1609.7,1644.0 1613.3,1642.4 1617.0,1637.7 1620.2,1638.7 1623.3,1637.6 1626.5,1639.7 1629.7,1638.4 1632.9,1639.5 1636.0,1645.1 1639.2,1646.2 1642.4,1648.6 1645.6,1651.5 1648.8,1657.5 1651.9,1660.0 1655.1,1661.8 1658.3,1661.7 1661.4,1661.3 1664.6,1658.2 1667.8,1659.6 1670.9,1658.8 1674.1,1658.8 1677.6,1652.8 1681.2,1651.9 1684.7,1648.8 1688.0,1650.9 1691.4,1650.1 1694.7,1652.1 1698.0,1653.8 1701.3,1652.8 1704.7,1654.3 1708.0,1656.5 1711.2,1656.6 1714.3,1663.2 1717.4,1664.0 1720.6,1667.6 1723.6,1668.5 1726.6,1671.9 1729.6,1672.4 1732.7,1674.7 1735.7,1673.9 1738.7,1678.2 1741.7,1679.5 1744.8,1682.5 1747.8,1684.3 1750.9,1688.0 1753.9,1692.2 1757.0,1694.3 1760.0,1701.1 1763.1,1702.6 1766.1,1708.1 1769.2,1708.9 1772.3,1708.0 1775.3,1705.9 1778.4,1702.8 1781.4,1699.4 1784.5,1695.4 1787.5,1694.3 1790.6,1691.6 1793.6,1691.0 1796.7,1688.5 1799.9,1688.0 1803.0,1687.7 1806.2,1684.3 1809.4,1683.4 1812.5,1683.9 1815.7,1682.5 1818.9,1682.5 1822.0,1683.7 1825.2,1681.9 1828.4,1682.9 1831.5,1681.7 1834.7,1680.9 1837.7,1683.1 1840.7,1680.0 1843.8,1682.3 1846.8,1680.7 1849.8,1681.0 1852.8,1678.8 1855.8,1680.7 1858.9,1681.0 1861.9,1678.3 1864.9,1679.0 1867.9,1679.4 1870.9,1678.5 1873.9,1679.2 1877.0,1678.6 1880.0,1677.1 1883.0,1678.2 1886.0,1678.2 1889.0,1676.9 1892.1,1677.0 1895.1,1676.9 1898.1,1676.1 1901.1,1673.7 1904.1,1673.9 1907.2,1674.2 1910.2,1673.0 1913.2,1669.7 1916.2,1670.2 1919.2,1669.6 1922.3,1668.4 1925.3,1666.0 1928.3,1666.8 1931.3,1666.0 1934.4,1664.4 1937.4,1664.9 1940.4,1662.6 1943.7,1660.4 1947.0,1661.1 1950.3,1662.5 1953.6,1660.0 1956.8,1663.0 1960.1,1661.9 1963.4,1661.9 1966.7,1659.6 1970.0,1658.8 1973.5,1665.3 1977.0,1667.4 1980.5,1670.5 1983.9,1668.2 1987.3,1666.6 1990.7,1662.6 1994.1,1661.5 1997.5,1656.8 2000.8,1663.2 2004.1,1665.7 2007.4,1667.9 2010.8,1672.0 2014.1,1676.9 2017.4,1678.5 2020.7,1683.3 2023.8,1683.5 2026.9,1683.0 2030.0,1679.9 2033.1,1681.2 2036.2,1679.9 2039.3,1680.0 2042.4,1676.7 2045.5,1677.3 2048.6,1676.8 2051.7,1677.5 2054.8,1675.6 2057.9,1673.5 2061.0,1673.5 2064.1,1675.1 2067.2,1674.7 2070.2,1672.9 2073.2,1670.4 2076.3,1672.2 2079.3,1671.8 2082.3,1669.1 2085.3,1669.1 2088.3,1667.7 2091.4,1666.1 2094.4,1667.9 2097.4,1665.1 2100.4,1664.2 2103.5,1666.5 2106.5,1662.8 2109.5,1664.5 2113.0,1661.9 2116.5,1657.0 2120.0,1654.6 2123.0,1653.6 2126.0,1654.8 2129.0,1655.2 2132.0,1653.9 2135.0,1652.4 2138.0,1652.1 2141.0,1651.1 2144.0,1651.7 2147.0,1649.5 2150.0,1648.9 2153.0,1650.0 2156.0,1647.9 2159.5,1656.2 2163.0,1660.9 2166.5,1664.6 2170.0,1661.4 2173.5,1660.9 2177.0,1656.7 2180.2,1657.0 2183.3,1656.5 2186.5,1656.3 2189.7,1653.8 2192.9,1653.4 2196.1,1653.4 2199.2,1650.0 2202.4,1649.8 2205.6,1650.6 2208.8,1648.0 2211.9,1649.1 2215.1,1645.1 2218.3,1644.5 2221.4,1644.8 2224.6,1644.6 2227.8,1643.6 2230.9,1642.4 2234.1,1642.6 2237.3,1643.6 2240.5,1643.1 2243.6,1641.4 2246.8,1640.3" fill="none" stroke="#00FFFF" stroke-width="9.5" stroke-linejoin="round" stroke-linecap="butt"/>
<path d="M242.0,1878.7C248.3,1878.0 263.6,1876.8 279.9,1874.7C296.2,1872.6 319.7,1867.1 339.6,1866.0C359.5,1866.0 379.5,1868.0 399.4,1868.0C419.3,1867.8 444.6,1865.1 459.2,1865.1C473.8,1865.8 479.1,1870.3 487.1,1871.9C495.1,1873.5 501.7,1872.9 507.0,1874.7C512.3,1876.5 514.0,1878.7 519.0,1882.7C524.0,1886.7 532.2,1896.2 536.9,1898.6C541.5,1898.6 543.6,1897.0 546.9,1897.0C550.2,1898.5 553.9,1907.0 556.9,1907.8C559.9,1907.8 561.1,1901.8 564.8,1901.8C568.4,1906.1 574.6,1930.5 578.8,1933.7C583.0,1933.7 586.4,1921.3 590.0,1921.0C593.6,1921.0 596.9,1928.4 600.7,1931.7C604.5,1935.0 608.6,1940.9 612.6,1940.9C616.6,1940.9 620.9,1931.7 624.6,1931.7C628.3,1934.5 629.6,1954.9 634.6,1957.6C639.6,1957.6 647.2,1952.6 654.5,1947.6C661.8,1942.6 671.1,1933.9 678.4,1927.7C685.7,1921.5 692.6,1913.2 698.3,1910.6C703.9,1910.6 706.6,1911.8 712.3,1911.8C717.9,1908.7 724.6,1895.8 732.2,1891.8C739.8,1887.9 733.5,1888.7 758.1,1887.9C782.7,1887.1 832.9,1887.2 880.0,1887.0C927.1,1887.0 1011.7,1887.0 1041.0,1887.0C1056.0,1891.0 1051.0,1908.6 1056.0,1910.9C1061.0,1910.9 1063.0,1905.5 1071.3,1900.9C1079.6,1896.3 1071.3,1886.2 1106.0,1883.5C1146.6,1883.5 1274.2,1883.5 1314.8,1884.8C1349.6,1886.1 1338.7,1891.3 1349.6,1891.3C1360.5,1891.1 1357.5,1884.2 1380.0,1883.5C1402.5,1883.5 1465.1,1884.2 1484.3,1887.0C1495.2,1889.8 1491.9,1887.0 1495.2,1900.0C1498.5,1913.0 1501.2,1944.4 1504.0,1965.2C1506.8,1986.0 1509.7,2019.9 1512.2,2025.0C1514.7,2025.0 1516.1,2015.1 1519.1,1995.7C1522.1,1976.3 1526.0,1931.9 1530.0,1908.7C1534.0,1885.5 1538.7,1867.7 1543.0,1856.5C1547.3,1845.3 1553.2,1843.7 1556.0,1841.3C1558.8,1841.3 1556.5,1841.3 1560.0,1842.3C1563.5,1846.3 1571.7,1862.0 1577.0,1865.5C1582.3,1865.5 1587.5,1863.4 1591.7,1863.4C1595.9,1866.2 1599.1,1881.4 1602.3,1882.4C1605.5,1882.4 1606.8,1872.9 1610.7,1869.7C1614.6,1866.5 1619.2,1863.4 1625.5,1863.4C1631.8,1864.8 1641.4,1874.3 1648.8,1878.2C1656.2,1882.1 1665.2,1878.5 1670.0,1886.6C1674.8,1894.7 1674.7,1922.9 1677.5,1926.8C1680.3,1926.8 1682.8,1910.5 1686.8,1909.9C1690.8,1909.9 1697.9,1917.2 1701.6,1923.4C1705.3,1929.6 1705.3,1945.5 1708.8,1947.1C1712.3,1947.1 1717.9,1942.5 1722.7,1933.1C1727.5,1923.7 1733.3,1896.2 1737.5,1890.9C1741.7,1890.9 1744.5,1895.3 1748.0,1901.4C1751.5,1907.5 1754.0,1926.9 1758.6,1927.6C1763.2,1927.6 1767.1,1911.8 1775.6,1905.7C1784.1,1899.6 1801.0,1892.7 1809.4,1890.9C1817.9,1890.9 1821.4,1891.9 1826.3,1895.1C1831.2,1898.3 1834.8,1907.8 1839.0,1909.9C1843.2,1909.9 1846.0,1907.8 1851.6,1907.8C1857.2,1911.0 1866.3,1922.4 1872.8,1928.9C1879.3,1935.5 1884.2,1947.1 1890.5,1947.1C1896.8,1945.2 1903.2,1920.9 1910.8,1917.5C1918.4,1917.5 1928.6,1926.8 1936.0,1926.8C1943.4,1922.4 1949.9,1902.2 1955.2,1890.9C1960.5,1879.6 1964.0,1862.5 1967.9,1859.2C1971.8,1859.2 1974.9,1871.0 1978.4,1871.0C1981.9,1869.2 1984.1,1849.9 1989.0,1848.6C1993.9,1848.6 2003.1,1860.2 2008.0,1863.4C2012.9,1866.6 2015.1,1865.5 2018.6,1867.6C2022.1,1869.7 2025.2,1871.0 2029.1,1876.1C2033.0,1881.2 2035.5,1895.9 2041.8,1898.0C2048.2,1898.0 2058.0,1889.3 2067.2,1888.8C2076.4,1888.8 2086.9,1895.1 2096.8,1895.1C2106.7,1895.1 2118.3,1888.8 2126.4,1888.8C2134.5,1889.0 2140.5,1896.4 2145.4,1896.4C2150.3,1896.0 2152.5,1887.9 2156.0,1886.6C2159.5,1886.6 2162.6,1888.8 2166.5,1888.8C2170.4,1884.8 2175.0,1865.6 2179.2,1862.6C2183.4,1862.6 2188.7,1865.6 2191.9,1871.0C2195.1,1876.4 2195.9,1884.5 2198.2,1895.1C2200.5,1905.7 2203.0,1933.4 2205.8,1934.4C2208.6,1934.4 2210.7,1910.4 2215.1,1901.4C2219.5,1892.4 2227.8,1882.0 2232.0,1880.3C2236.2,1880.3 2238.0,1880.3 2240.5,1890.9C2243.0,1906.4 2245.8,1959.6 2246.8,1973.3" fill="none" stroke="#0000FF" stroke-width="8.5" stroke-linejoin="round" stroke-linecap="butt"/>
<polyline points="242.0,2159.7 245.0,2160.0 248.1,2160.8 251.1,2159.8 254.1,2160.0 257.1,2160.2 260.2,2159.3 263.2,2160.1 266.2,2160.4 269.2,2160.8 272.3,2159.3 275.3,2159.8 278.3,2159.4 281.4,2161.0 284.4,2160.8 287.4,2159.4 290.4,2161.5 293.5,2161.5 296.5,2160.8 299.5,2160.8 302.5,2159.8 305.6,2159.5 308.6,2160.7 311.6,2159.7 314.6,2160.0 317.7,2160.2 320.7,2159.8 323.7,2160.8 326.8,2160.7 329.8,2161.7 332.8,2161.0 335.8,2161.3 338.9,2161.0 341.9,2161.4 344.9,2161.0 347.9,2160.7 351.0,2162.3 354.0,2162.3 357.0,2162.0 360.0,2161.8 363.1,2160.9 366.1,2160.8 369.1,2161.0 372.2,2160.5 375.2,2162.1 378.2,2161.3 381.2,2162.3 384.3,2161.4 387.3,2162.7 390.3,2162.4 393.3,2160.6 396.4,2161.1 399.4,2162.7 402.5,2161.7 405.5,2162.7 408.6,2161.3 411.7,2160.6 414.7,2161.7 417.8,2162.0 420.9,2160.8 423.9,2160.3 427.0,2160.7 430.1,2162.1 433.1,2161.5 436.2,2160.0 439.2,2160.2 442.3,2159.8 445.4,2159.7 448.4,2161.2 451.5,2159.8 454.6,2160.5 457.6,2160.2 460.7,2159.6 463.8,2160.7 466.8,2159.3 469.9,2160.3 473.0,2159.1 476.0,2159.7 479.1,2159.2 482.2,2159.4 485.2,2161.0 488.3,2160.7 491.4,2159.7 494.4,2161.1 497.5,2159.7 500.6,2160.2 503.7,2161.3 506.7,2160.9 509.8,2159.8 512.9,2161.9 515.9,2160.3 519.0,2160.5 522.4,2162.3 525.8,2162.0 529.2,2162.6 532.7,2162.8 536.1,2163.5 539.5,2165.3 542.9,2165.2 546.1,2165.2 549.3,2163.9 552.4,2163.3 555.6,2163.6 558.8,2161.8 562.1,2163.8 565.5,2166.3 568.8,2166.7 572.1,2168.5 575.5,2172.0 578.8,2173.7 582.8,2170.0 586.7,2167.5 590.7,2166.3 594.1,2167.1 597.5,2165.7 600.9,2167.6 604.4,2167.8 607.8,2167.5 611.2,2167.3 614.6,2166.9 617.9,2167.8 621.3,2170.8 624.6,2170.2 627.9,2172.3 631.3,2172.3 634.6,2174.5 638.2,2175.6 641.8,2176.5 645.3,2177.8 648.9,2180.6 652.5,2180.8 656.1,2179.5 659.7,2178.7 663.2,2177.7 666.8,2175.6 670.4,2173.3 673.7,2173.7 677.1,2171.1 680.4,2169.7 683.7,2169.3 687.1,2168.7 690.4,2166.8 693.9,2168.1 697.3,2169.5 700.8,2171.0 704.3,2171.0 707.4,2169.8 710.6,2169.2 713.7,2167.7 716.9,2165.3 720.0,2163.6 723.2,2161.7 726.3,2159.0 729.3,2158.5 732.4,2158.3 735.4,2160.0 738.5,2159.3 741.5,2159.6 744.5,2157.3 747.6,2158.5 750.6,2157.9 753.7,2158.2 756.7,2157.0 759.8,2158.3 762.8,2156.0 765.8,2156.8 768.9,2157.0 771.9,2157.2 775.0,2156.6 778.0,2156.2 781.0,2156.5 784.0,2156.8 787.0,2155.5 790.0,2156.3 793.0,2156.8 796.0,2156.7 799.0,2155.8 802.0,2156.6 805.0,2156.8 808.0,2156.2 811.0,2156.3 814.0,2155.8 817.0,2156.2 820.0,2156.3 823.0,2155.2 826.0,2156.4 829.0,2157.2 832.0,2157.0 835.0,2156.7 838.0,2156.0 841.0,2156.7 844.0,2156.4 847.0,2156.1 850.0,2157.0 853.0,2155.4 856.0,2156.9 859.0,2155.3 862.0,2156.6 865.0,2156.4 868.0,2155.8 871.0,2156.9 874.0,2156.5 877.0,2156.7 880.0,2157.4 883.0,2155.9 886.0,2155.3 889.0,2155.9 892.0,2156.7 895.0,2155.7 898.0,2155.5 901.0,2157.1 904.0,2156.5 907.0,2156.0 910.0,2157.0 913.0,2155.7 916.0,2156.4 919.0,2155.3 922.0,2155.8 925.0,2156.6 928.0,2156.8 931.0,2156.7 934.0,2155.6 937.0,2156.0 940.0,2155.3 943.0,2154.9 946.0,2155.7 949.0,2156.4 952.0,2156.4 955.0,2156.0 958.0,2156.5 961.0,2155.0 964.0,2154.7 967.0,2155.3 970.0,2154.9 973.0,2154.7 976.0,2155.1 979.0,2155.5 982.0,2155.2 985.0,2154.8 988.0,2155.9 991.0,2156.2 994.0,2155.0 997.0,2154.1 1000.0,2154.0 1003.0,2155.8 1006.0,2153.9 1009.0,2155.3 1012.0,2155.0 1015.0,2154.4 1018.0,2155.4 1021.0,2153.7 1024.0,2153.9 1027.0,2154.5 1030.0,2153.6 1033.0,2155.3 1036.0,2153.9 1039.0,2153.7 1042.0,2153.5 1045.0,2154.7 1048.0,2154.3 1051.0,2154.6 1054.0,2154.6 1057.0,2155.0 1060.1,2155.3 1063.1,2154.6 1066.1,2153.5 1069.2,2154.1 1072.2,2153.4 1075.2,2153.1 1078.3,2154.0 1081.3,2154.6 1084.3,2153.3 1087.4,2153.5 1090.4,2153.7 1093.4,2154.4 1096.5,2154.0 1099.5,2154.2 1102.5,2154.5 1105.6,2153.7 1108.6,2154.5 1111.6,2154.7 1114.7,2152.9 1117.7,2154.7 1120.7,2154.3 1123.7,2152.9 1126.8,2153.6 1129.8,2154.0 1132.8,2154.6 1135.9,2153.4 1138.9,2153.8 1141.9,2154.4 1145.0,2154.2 1148.0,2154.5 1151.0,2153.4 1154.1,2153.8 1157.1,2152.8 1160.1,2153.9 1163.2,2154.1 1166.2,2153.7 1169.2,2153.9 1172.3,2152.7 1175.3,2154.2 1178.3,2154.4 1181.4,2154.3 1184.4,2153.3 1187.4,2153.9 1190.5,2152.8 1193.5,2154.1 1196.5,2153.9 1199.6,2152.8 1202.6,2152.2 1205.6,2152.9 1208.7,2153.2 1211.7,2153.6 1214.7,2153.0 1217.8,2151.9 1220.8,2153.6 1223.8,2152.0 1226.9,2153.6 1229.9,2152.2 1232.9,2152.5 1236.0,2153.5 1239.0,2152.0 1242.0,2152.0 1245.1,2152.8 1248.1,2153.2 1251.1,2153.5 1254.1,2153.1 1257.2,2153.6 1260.2,2152.6 1263.2,2153.6 1266.3,2151.7 1269.3,2152.0 1272.3,2152.6 1275.4,2152.1 1278.4,2153.0 1281.4,2152.8 1284.5,2152.5 1287.5,2153.2 1290.5,2152.5 1293.6,2152.0 1296.6,2152.1 1299.6,2153.1 1302.7,2153.2 1305.7,2151.6 1308.7,2153.0 1311.8,2153.3 1314.8,2152.3 1317.8,2152.4 1320.9,2151.6 1323.9,2152.4 1326.9,2152.4 1329.9,2152.6 1333.0,2151.4 1336.0,2153.5 1339.0,2152.5 1342.0,2152.3 1345.1,2153.2 1348.1,2152.8 1351.1,2152.6 1354.1,2153.1 1357.2,2151.8 1360.2,2152.8 1363.2,2152.6 1366.3,2153.8 1369.3,2153.8 1372.3,2152.4 1375.3,2152.9 1378.4,2152.2 1381.4,2152.9 1384.4,2153.8 1387.4,2154.0 1390.5,2153.1 1393.5,2152.8 1396.5,2152.5 1399.5,2153.5 1402.6,2154.2 1405.6,2152.5 1408.6,2154.0 1411.7,2152.4 1414.7,2152.8 1417.7,2152.9 1420.7,2153.9 1423.8,2153.2 1426.8,2153.3 1429.8,2153.9 1432.8,2152.8 1435.9,2154.2 1438.9,2152.9 1441.9,2153.8 1445.0,2153.3 1448.0,2153.2 1451.0,2154.0 1454.0,2153.8 1457.1,2153.7 1460.1,2153.8 1463.1,2154.1 1466.1,2153.3 1469.2,2153.5 1472.2,2154.4 1475.2,2154.5 1478.2,2154.3 1481.3,2155.0 1484.3,2154.5 1487.9,2158.7 1491.6,2161.0 1495.2,2165.7 1499.6,2185.4 1504.0,2205.2 1507.2,2214.7 1510.4,2225.6 1514.7,2216.1 1519.0,2203.7 1522.7,2196.0 1526.3,2186.3 1530.0,2175.2 1533.0,2174.6 1536.1,2174.8 1539.1,2172.9 1542.2,2171.7 1545.2,2172.4 1548.9,2170.3 1552.6,2169.8 1556.3,2167.1 1560.0,2166.4 1563.2,2166.0 1566.3,2163.4 1569.5,2162.8 1572.7,2162.8 1575.9,2162.3 1579.1,2161.3 1582.2,2158.4 1585.4,2158.2 1588.6,2161.9 1591.8,2164.4 1595.0,2168.0 1598.2,2170.0 1601.4,2172.9 1604.5,2169.1 1607.6,2165.2 1610.7,2162.5 1613.7,2161.5 1616.8,2160.8 1619.8,2158.9 1622.8,2158.1 1625.8,2157.2 1628.9,2157.7 1631.9,2157.2 1635.2,2156.7 1638.4,2154.6 1641.7,2154.2 1645.0,2155.9 1648.2,2154.5 1651.5,2154.8 1654.7,2153.6 1658.0,2153.6 1661.3,2153.4 1664.5,2152.9 1667.8,2152.9 1670.9,2153.3 1674.1,2156.5 1678.3,2184.3 1682.5,2172.2 1686.8,2162.3 1690.0,2166.1 1693.2,2168.5 1696.3,2171.3 1699.5,2174.4 1703.7,2187.2 1707.9,2198.1 1711.1,2195.6 1714.2,2191.0 1717.4,2186.3 1720.6,2182.2 1723.8,2177.5 1726.9,2172.8 1730.1,2169.0 1733.3,2164.5 1736.4,2161.4 1739.6,2156.8 1743.0,2158.5 1746.4,2162.9 1749.7,2165.5 1753.1,2168.6 1756.5,2171.6 1759.7,2168.9 1762.9,2168.2 1766.0,2166.4 1769.2,2164.3 1772.4,2162.7 1775.6,2160.9 1778.6,2159.9 1781.6,2160.5 1784.6,2158.9 1787.7,2159.4 1790.7,2159.5 1793.7,2158.3 1796.7,2158.9 1799.7,2159.4 1802.7,2159.2 1805.7,2158.2 1808.8,2159.6 1811.8,2158.9 1814.8,2158.0 1817.8,2158.6 1820.8,2160.5 1823.9,2162.5 1826.9,2164.3 1829.9,2167.8 1832.9,2169.1 1836.0,2171.3 1839.0,2173.6 1842.7,2174.3 1846.3,2172.4 1850.0,2173.9 1853.7,2174.3 1857.0,2176.8 1860.4,2180.6 1863.7,2183.3 1867.0,2187.1 1870.3,2191.0 1873.7,2193.9 1877.0,2197.8 1880.4,2200.9 1883.8,2201.8 1887.1,2203.4 1890.5,2206.1 1893.9,2206.9 1897.2,2206.9 1900.5,2205.0 1903.8,2204.4 1907.1,2201.7 1910.3,2201.8 1913.6,2201.2 1916.9,2198.6 1920.2,2199.5 1923.5,2196.8 1926.7,2199.1 1929.8,2200.1 1933.0,2202.6 1936.2,2204.5 1939.3,2205.0 1942.5,2208.6 1945.6,2209.1 1948.8,2211.1 1952.0,2209.1 1955.2,2206.5 1958.3,2204.2 1961.5,2202.9 1964.7,2200.6 1967.9,2197.8 1971.1,2202.8 1974.2,2205.9 1977.3,2209.3 1980.5,2213.8 1983.5,2209.2 1986.6,2205.2 1989.6,2202.3 1992.6,2197.2 1995.6,2194.1 1998.7,2189.6 2001.7,2183.8 2005.9,2191.0 2010.1,2196.0 2013.8,2188.6 2017.5,2184.9 2021.2,2178.3 2024.9,2173.0 2028.6,2176.1 2032.3,2176.6 2036.0,2179.4 2039.7,2182.4 2042.9,2179.4 2046.0,2176.3 2049.2,2174.9 2052.4,2172.0 2055.6,2169.0 2058.7,2165.4 2061.9,2164.0 2065.1,2161.1 2068.2,2158.0 2071.4,2155.1 2074.6,2156.7 2077.8,2156.3 2080.9,2157.5 2084.1,2158.6 2087.3,2158.6 2090.5,2158.7 2093.6,2160.0 2096.8,2160.1 2100.0,2159.9 2103.1,2158.4 2106.3,2158.4 2109.5,2157.4 2112.6,2155.9 2115.8,2153.8 2119.0,2152.6 2122.1,2153.3 2125.3,2152.1 2128.5,2150.7 2131.6,2149.2 2134.8,2148.0 2138.0,2151.3 2141.2,2153.5 2144.3,2156.0 2147.5,2158.5 2151.8,2153.9 2156.0,2147.8 2159.0,2149.6 2162.0,2152.9 2165.0,2154.5 2168.0,2156.1 2171.0,2155.9 2174.0,2157.6 2177.0,2159.8 2180.7,2162.8 2184.4,2165.9 2188.2,2167.4 2191.9,2171.0 2195.4,2185.3 2198.9,2200.6 2202.3,2217.3 2205.8,2232.3 2208.9,2217.0 2212.0,2200.9 2215.1,2185.7 2218.3,2177.9 2221.5,2171.0 2224.8,2164.6 2228.0,2157.6 2231.2,2148.8 2234.3,2153.1 2237.4,2158.8 2240.5,2162.7 2245.6,2274.4" fill="none" stroke="#00FF00" stroke-width="9.5" stroke-linejoin="round" stroke-linecap="butt"/>
<path d="M242.0,2367.9C248.3,2369.0 263.6,2372.6 279.9,2374.6C296.2,2376.6 319.7,2379.6 339.6,2379.8C359.5,2379.8 379.5,2376.7 399.4,2375.8C419.3,2374.9 441.9,2375.6 459.2,2374.6C476.5,2373.6 490.4,2369.9 503.0,2369.9C515.6,2370.8 524.4,2378.6 535.0,2379.8C545.6,2379.8 559.5,2377.0 566.8,2377.0C574.1,2378.7 575.1,2388.7 578.8,2389.8C582.4,2389.8 582.7,2383.8 588.7,2383.8C594.7,2385.0 608.6,2396.1 614.6,2397.0C620.6,2397.0 620.6,2389.0 624.6,2389.0C628.6,2389.4 629.6,2399.7 638.6,2399.7C647.6,2399.5 666.5,2391.1 678.4,2387.8C690.3,2384.5 700.3,2383.1 710.3,2379.8C720.3,2376.5 726.9,2369.9 738.2,2367.9C749.5,2367.9 754.4,2367.9 778.0,2367.9C801.6,2367.6 836.2,2366.7 880.0,2366.0C923.8,2365.3 1011.3,2364.0 1041.0,2364.0C1058.0,2364.7 1052.2,2370.1 1058.0,2370.4C1063.8,2370.4 1067.7,2368.0 1075.7,2366.0C1083.7,2364.0 1075.7,2360.1 1106.0,2358.3C1145.8,2356.5 1262.6,2356.8 1314.8,2355.2C1367.0,2353.6 1390.4,2348.9 1419.0,2348.7C1447.6,2348.7 1473.8,2351.4 1486.5,2353.9C1495.2,2356.4 1492.3,2355.4 1495.2,2363.9C1498.1,2372.4 1500.8,2390.0 1504.0,2405.2C1507.2,2420.3 1511.6,2450.5 1514.1,2454.8C1516.6,2454.8 1516.3,2443.2 1519.0,2431.3C1521.7,2419.4 1525.6,2392.3 1530.0,2383.5C1534.4,2378.3 1540.2,2380.2 1545.2,2378.3C1550.2,2376.4 1553.7,2375.4 1560.0,2372.1C1566.3,2368.8 1576.3,2358.2 1583.2,2358.2C1590.1,2358.5 1596.8,2373.1 1601.4,2373.8C1606.0,2373.8 1603.5,2365.9 1610.7,2362.4C1617.9,2358.9 1634.8,2355.3 1644.5,2352.7C1654.2,2350.1 1663.7,2346.8 1669.0,2346.8C1674.3,2350.5 1673.2,2372.8 1676.2,2375.1C1679.2,2375.1 1682.6,2360.3 1686.8,2360.3C1691.0,2360.3 1698.1,2368.9 1701.6,2375.1C1705.1,2381.3 1704.4,2396.1 1707.9,2397.5C1711.4,2397.5 1717.4,2391.5 1722.7,2383.5C1728.0,2375.5 1734.0,2352.0 1739.6,2349.7C1745.2,2349.7 1750.5,2368.9 1756.5,2369.6C1762.5,2369.6 1766.1,2357.5 1775.6,2354.0C1785.1,2350.5 1803.0,2348.5 1813.6,2348.5C1824.2,2349.9 1832.7,2361.0 1839.0,2362.4C1845.3,2362.4 1846.0,2356.9 1851.6,2356.9C1857.2,2359.7 1865.8,2371.0 1872.8,2379.3C1879.8,2387.6 1888.3,2404.0 1893.9,2406.8C1899.5,2406.8 1901.7,2397.5 1906.6,2396.2C1911.5,2396.2 1918.2,2396.2 1923.5,2399.2C1928.8,2403.1 1930.9,2419.5 1938.3,2419.5C1945.7,2418.1 1960.9,2393.4 1967.9,2390.7C1974.9,2390.7 1974.9,2403.4 1980.5,2403.4C1986.1,2398.7 1996.8,2368.2 2001.7,2362.4C2006.6,2362.4 2006.2,2368.8 2010.1,2368.8C2014.0,2364.9 2020.0,2339.9 2024.9,2339.2C2029.8,2339.2 2032.7,2364.5 2039.7,2364.5C2046.8,2363.4 2057.7,2338.1 2067.2,2332.8C2076.7,2332.8 2086.9,2332.8 2096.8,2332.8C2106.7,2331.1 2118.3,2322.7 2126.4,2322.3C2134.5,2322.3 2140.5,2330.7 2145.4,2330.7C2150.3,2328.9 2151.4,2311.7 2156.0,2311.7C2160.6,2311.7 2167.3,2327.2 2172.9,2330.7C2178.5,2332.8 2184.5,2330.7 2189.8,2332.8C2195.1,2345.1 2200.6,2399.4 2204.5,2404.7C2208.4,2404.7 2208.4,2381.2 2213.0,2364.5C2217.6,2347.8 2227.4,2313.3 2232.0,2304.5C2236.6,2304.5 2238.2,2304.5 2240.5,2311.7C2242.8,2342.8 2244.8,2461.4 2245.6,2491.3" fill="none" stroke="#FF0000" stroke-width="8.5" stroke-linejoin="round" stroke-linecap="butt"/>
<path d="M242.0,2597.9C245.7,2600.2 255.6,2606.5 263.9,2611.8C272.2,2617.1 282.5,2624.0 291.8,2629.7C301.1,2635.3 308.4,2641.5 319.7,2645.7C331.0,2649.9 343.0,2653.4 359.6,2654.9C376.2,2654.9 399.5,2654.9 419.4,2654.9C439.3,2654.2 465.2,2653.1 479.1,2650.9C493.0,2648.7 496.4,2644.9 503.0,2641.7C509.6,2638.5 513.0,2635.0 519.0,2631.7C525.0,2628.4 532.9,2623.7 538.9,2621.8C544.9,2620.6 550.2,2620.6 554.9,2620.6C559.5,2621.7 562.1,2628.4 566.8,2628.6C571.4,2628.6 577.5,2624.1 582.8,2621.8C588.1,2619.5 594.1,2615.7 598.7,2615.0C603.4,2615.0 606.1,2615.0 610.7,2617.8C615.4,2620.9 622.0,2628.4 626.6,2633.7C631.2,2639.0 635.0,2644.4 638.6,2649.7C642.2,2655.0 645.2,2664.9 648.5,2665.6C651.8,2665.6 652.9,2658.7 658.5,2653.7C664.1,2648.7 677.1,2638.0 682.4,2635.7C687.7,2635.7 687.1,2639.4 690.4,2639.7C693.7,2639.7 697.6,2639.7 702.3,2637.7C706.9,2634.0 710.3,2624.4 718.3,2617.8C726.3,2611.2 740.2,2602.6 750.2,2597.9C760.2,2593.2 766.7,2592.2 778.0,2589.9C789.3,2587.6 800.9,2585.0 817.9,2583.9C834.9,2583.5 855.1,2583.6 880.0,2583.5C904.9,2583.5 940.2,2583.5 967.0,2583.5C993.8,2583.9 1026.2,2583.5 1041.0,2585.7C1055.8,2589.3 1051.0,2603.0 1056.0,2605.2C1061.0,2605.2 1063.0,2601.2 1071.3,2598.7C1079.6,2596.2 1094.4,2591.2 1106.0,2590.0C1117.6,2590.0 1106.1,2590.0 1140.9,2591.3C1175.7,2593.5 1258.3,2598.9 1314.8,2603.0C1371.3,2607.1 1448.1,2611.7 1480.0,2616.0C1506.0,2620.3 1498.8,2627.5 1506.0,2629.0C1513.2,2629.0 1517.7,2624.8 1523.5,2624.8C1529.3,2624.8 1534.8,2627.1 1540.9,2629.0C1547.0,2630.9 1553.3,2634.6 1560.0,2636.2C1566.7,2637.8 1573.3,2638.3 1581.1,2638.3C1588.8,2637.4 1598.8,2632.4 1606.5,2630.7C1614.2,2628.9 1619.8,2628.1 1627.6,2627.8C1635.3,2627.8 1644.5,2627.9 1653.0,2629.0C1661.5,2630.1 1672.0,2631.1 1678.3,2634.1C1684.6,2637.1 1686.4,2641.0 1691.0,2646.8C1695.6,2652.6 1699.8,2664.6 1705.8,2668.8C1711.8,2672.2 1721.0,2669.9 1727.0,2672.2C1733.0,2674.5 1737.1,2682.6 1741.7,2682.7C1746.3,2682.7 1745.9,2676.9 1754.4,2673.0C1762.9,2669.1 1779.8,2662.1 1792.5,2659.5C1805.2,2657.4 1819.9,2657.4 1830.5,2657.4C1841.1,2658.0 1845.3,2662.9 1855.9,2662.9C1866.5,2662.9 1882.6,2657.4 1893.9,2657.4C1905.2,2660.3 1912.9,2674.6 1923.5,2680.6C1934.1,2686.6 1948.1,2686.2 1957.3,2693.3C1966.5,2700.4 1970.3,2715.3 1978.4,2722.9C1986.5,2730.5 1997.5,2738.9 2005.9,2738.9C2014.4,2737.5 2023.5,2719.9 2029.1,2714.4C2034.7,2708.9 2036.5,2706.0 2039.7,2706.0C2042.9,2706.0 2043.6,2714.4 2048.2,2714.4C2052.8,2710.2 2061.9,2687.3 2067.2,2680.6C2072.5,2674.3 2075.0,2674.9 2079.9,2674.3C2084.8,2674.3 2092.2,2674.7 2096.8,2677.2C2101.4,2679.7 2103.8,2688.9 2107.3,2689.1C2110.8,2689.1 2111.8,2681.3 2117.8,2678.5C2123.8,2675.7 2134.8,2673.2 2143.3,2672.2C2151.8,2672.2 2161.6,2672.2 2168.6,2672.2C2175.6,2673.2 2177.1,2677.2 2185.5,2678.5C2193.9,2679.8 2209.3,2678.5 2219.3,2679.8C2229.3,2681.2 2241.2,2685.8 2245.6,2687.0" fill="none" stroke="#000000" stroke-width="8.5" stroke-linejoin="round" stroke-linecap="butt"/>
</g>
<defs><clipPath id="plotclip"><rect x="238" y="92" width="2010" height="2672"/></clipPath></defs>
<g><polygon points="627.7,239.0 652.5,235.5 651.0,275.5 646.5,283.5" fill="#000"/><polygon points="1514.5,294.9 1539.3,291.4 1537.8,331.4 1533.3,339.4" fill="#000"/><polygon points="1695.2,260.7 1720.0,257.2 1718.5,297.2 1714.0,305.2" fill="#000"/><polygon points="1870.9,266.9 1895.7,263.4 1894.2,303.4 1889.7,311.4" fill="#000"/><polygon points="1959.6,232.2 1984.4,228.7 1982.9,268.7 1978.4,276.7" fill="#000"/><polygon points="2182.8,245.8 2207.6,242.3 2206.1,282.3 2201.6,290.3" fill="#000"/><polygon points="615.2,490.5 640.0,487.0 638.5,527.0 634.0,535.0" fill="#000"/><polygon points="1498.6,585.1 1523.4,581.6 1521.9,621.6 1517.4,629.6" fill="#000"/><polygon points="1680.7,549.1 1705.5,545.6 1704.0,585.6 1699.5,593.6" fill="#000"/><polygon points="1858.2,554.2 1883.0,550.7 1881.5,590.7 1877.0,598.7" fill="#000"/><polygon points="1946.9,521.6 1971.7,518.1 1970.2,558.1 1965.7,566.1" fill="#000"/><polygon points="2168.8,536.5 2193.6,533.0 2192.1,573.0 2187.6,581.0" fill="#000"/><polygon points="635.7,731.9 660.5,728.4 659.0,768.4 654.5,776.4" fill="#000"/><polygon points="703.5,686.1 728.3,682.6 726.8,722.6 722.3,730.6" fill="#000"/><polygon points="1503.8,767.7 1528.6,764.2 1527.1,804.2 1522.6,812.2" fill="#000"/><polygon points="1689.1,731.5 1713.9,728.0 1712.4,768.0 1707.9,776.0" fill="#000"/><polygon points="1865.8,739.1 1890.6,735.6 1889.1,775.6 1884.6,783.6" fill="#000"/><polygon points="1952.0,732.3 1976.8,728.8 1975.3,768.8 1970.8,776.8" fill="#000"/><polygon points="2175.2,718.8 2200.0,715.3 2198.5,755.3 2194.0,763.3" fill="#000"/><polygon points="641.7,1016.8 666.5,1013.3 665.0,1053.3 660.5,1061.3" fill="#000"/><polygon points="724.2,971.0 749.0,967.5 747.5,1007.5 743.0,1015.5" fill="#000"/><polygon points="1509.2,1030.3 1534.0,1026.8 1532.5,1066.8 1528.0,1074.8" fill="#000"/><polygon points="1695.5,996.8 1720.3,993.3 1718.8,1033.3 1714.3,1041.3" fill="#000"/><polygon points="1871.7,1003.2 1896.5,999.7 1895.0,1039.7 1890.5,1047.7" fill="#000"/><polygon points="1959.6,969.4 1984.4,965.9 1982.9,1005.9 1978.4,1013.9" fill="#000"/><polygon points="2182.8,982.0 2207.6,978.5 2206.1,1018.5 2201.6,1026.5" fill="#000"/><polygon points="430.4,1252.8 455.2,1249.3 453.7,1289.3 449.2,1297.3" fill="#000"/><polygon points="1534.2,1218.5 1559.0,1215.0 1557.5,1255.0 1553.0,1263.0" fill="#000"/><polygon points="1620.7,1265.8 1645.5,1262.3 1644.0,1302.3 1639.5,1310.3" fill="#000"/><polygon points="1790.6,1234.1 1815.4,1230.6 1813.9,1270.6 1809.4,1278.6" fill="#000"/><polygon points="2181.5,1172.9 2206.3,1169.4 2204.8,1209.4 2200.3,1217.4" fill="#000"/><polygon points="1533.8,1416.1 1558.6,1412.6 1557.1,1452.6 1552.6,1460.6" fill="#000"/><polygon points="1776.8,1504.0 1801.6,1500.5 1800.1,1540.5 1795.6,1548.5" fill="#000"/><polygon points="2151.2,1523.5 2176.0,1520.0 2174.5,1560.0 2170.0,1568.0" fill="#000"/><polygon points="560.0,1701.0 584.8,1697.5 583.3,1737.5 578.8,1745.5" fill="#000"/><polygon points="1642.6,1693.9 1667.4,1690.4 1665.9,1730.4 1661.4,1738.4" fill="#000"/><polygon points="1763.1,1739.5 1787.9,1736.0 1786.4,1776.0 1781.9,1784.0" fill="#000"/><polygon points="619.8,1969.7 644.6,1966.2 643.1,2006.2 638.6,2014.2" fill="#000"/><polygon points="1520.4,2031.6 1545.2,2028.1 1543.7,2068.1 1539.2,2076.1" fill="#000"/><polygon points="1689.1,1970.2 1713.9,1966.7 1712.4,2006.7 1707.9,2014.7" fill="#000"/><polygon points="1755.9,1937.2 1780.7,1933.7 1779.2,1973.7 1774.7,1981.7" fill="#000"/><polygon points="1870.0,1963.4 1894.8,1959.9 1893.3,1999.9 1888.8,2007.9" fill="#000"/><polygon points="2175.2,1963.4 2200.0,1959.9 2198.5,1999.9 2194.0,2007.9" fill="#000"/><polygon points="585.9,2187.1 610.7,2183.6 609.2,2223.6 604.7,2231.6" fill="#000"/><polygon points="673.6,2191.0 698.4,2187.5 696.9,2227.5 692.4,2235.5" fill="#000"/><polygon points="1513.2,2260.7 1538.0,2257.2 1536.5,2297.2 1532.0,2305.2" fill="#000"/><polygon points="1581.4,2201.2 1606.2,2197.7 1604.7,2237.7 1600.2,2245.7" fill="#000"/><polygon points="1701.8,2227.8 1726.6,2224.3 1725.1,2264.3 1720.6,2272.3" fill="#000"/><polygon points="1898.3,2220.6 1923.1,2217.1 1921.6,2257.1 1917.1,2265.1" fill="#000"/><polygon points="593.8,2409.9 618.6,2406.4 617.1,2446.4 612.6,2454.4" fill="#000"/><polygon points="682.7,2396.3 707.5,2392.8 706.0,2432.8 701.5,2440.8" fill="#000"/><polygon points="1500.6,2466.3 1525.4,2462.8 1523.9,2502.8 1519.4,2510.8" fill="#000"/><polygon points="1606.7,2389.8 1631.5,2386.3 1630.0,2426.3 1625.5,2434.3" fill="#000"/><polygon points="1709.4,2422.3 1734.2,2418.8 1732.7,2458.8 1728.2,2466.8" fill="#000"/><polygon points="1889.9,2456.1 1914.7,2452.6 1913.2,2492.6 1908.7,2500.6" fill="#000"/><polygon points="2181.5,2417.2 2206.3,2413.7 2204.8,2453.7 2200.3,2461.7" fill="#000"/><polygon points="647.7,2708.8 672.5,2705.3 671.0,2745.3 666.5,2753.3" fill="#000"/><polygon points="693.5,2661.0 718.3,2657.5 716.8,2697.5 712.3,2705.5" fill="#000"/><polygon points="1539.5,2667.2 1564.3,2663.7 1562.8,2703.7 1558.3,2711.7" fill="#000"/><polygon points="1714.5,2691.9 1739.3,2688.4 1737.8,2728.4 1733.3,2736.4" fill="#000"/><polygon points="2067.4,2705.8 2092.2,2702.3 2090.7,2742.3 2086.2,2750.3" fill="#000"/><polygon points="2194.2,2694.5 2219.0,2691.0 2217.5,2731.0 2213.0,2739.0" fill="#000"/></g>
<rect x="242" y="39.5" width="1229.5" height="109.0" fill="#fff" stroke="none"/>
<line x1="281" y1="98.2" x2="481" y2="98.2" stroke="#FF0080" stroke-width="3" stroke-linecap="round"/>
<text transform="translate(503.0,127.5) scale(1,1.0)" font-size="89.5" fill="#000">P(S-MMA)/CG:BN(sus.)</text>
<rect x="242" y="39.5" width="1229.5" height="109.0" fill="none" stroke="#000" stroke-width="3.2"/>
<rect x="244.5" y="296" width="1068.5" height="108.0" fill="#fff" stroke="none"/>
<line x1="281" y1="354.4" x2="481" y2="354.4" stroke="#FF8000" stroke-width="8.5" stroke-linecap="round"/>
<text transform="translate(503.0,384.3) scale(1,1.0)" font-size="89.5" fill="#000">P(S-MMA)/BN(sus.)</text>
<rect x="244.5" y="296" width="1068.5" height="108.0" fill="none" stroke="#000" stroke-width="3.2"/>
<rect x="244.5" y="511" width="1078.0" height="108.5" fill="#fff" stroke="none"/>
<line x1="281" y1="569.7" x2="481" y2="569.7" stroke="#990000" stroke-width="8.5" stroke-linecap="round"/>
<text transform="translate(503.0,600) scale(1,1.0)" font-size="89.5" fill="#000">P(S-MMA)/CG(sus.)</text>
<rect x="244.5" y="511" width="1078.0" height="108.5" fill="none" stroke="#000" stroke-width="3.2"/>
<rect x="245" y="795" width="917.5" height="108.0" fill="#fff" stroke="none"/>
<line x1="281" y1="853" x2="481" y2="853" stroke="#990090" stroke-width="8.5" stroke-linecap="round"/>
<text transform="translate(503.0,883.4) scale(1,1.0)" font-size="89.5" fill="#000">P(S-MMA)(sus.)</text>
<rect x="245" y="795" width="917.5" height="108.0" fill="none" stroke="#000" stroke-width="3.2"/>
<rect x="236.5" y="1064.5" width="552.0" height="106.2" fill="#fff" stroke="none"/>
<line x1="268" y1="1123" x2="466.5" y2="1123" stroke="#000080" stroke-width="8.5" stroke-linecap="round"/>
<text transform="translate(489.5,1151.5) scale(1,1.0)" font-size="89.5" fill="#000">CG:BN</text>
<rect x="236.5" y="1064.5" width="552.0" height="106.2" fill="none" stroke="#000" stroke-width="3.2"/>
<rect x="240" y="1306.5" width="388.6" height="108.5" fill="#fff" stroke="none"/>
<line x1="268" y1="1365.2" x2="466.5" y2="1365.2" stroke="#FF00FF" stroke-width="8.5" stroke-linecap="round"/>
<text transform="translate(489.5,1395) scale(1,1.0)" font-size="89.5" fill="#000">BN</text>
<rect x="240" y="1306.5" width="388.6" height="108.5" fill="none" stroke="#000" stroke-width="3.2"/>
<rect x="240" y="1509.2" width="399.0" height="105.5" fill="#fff" stroke="none"/>
<line x1="268" y1="1566.3" x2="466.5" y2="1566.3" stroke="#00FFFF" stroke-width="8.5" stroke-linecap="round"/>
<text transform="translate(489.5,1594.5) scale(1,1.0)" font-size="89.5" fill="#000">CG</text>
<rect x="240" y="1509.2" width="399.0" height="105.5" fill="none" stroke="#000" stroke-width="3.2"/>
<rect x="243" y="1751.5" width="1228.3" height="107.5" fill="#fff" stroke="none"/>
<line x1="281" y1="1809.3" x2="481" y2="1809.3" stroke="#0000FF" stroke-width="8.5" stroke-linecap="round"/>
<text transform="translate(503.0,1838.6) scale(1,1.0)" font-size="89.5" fill="#000">P(S-MMA)/CG:BN(bulk)</text>
<rect x="243" y="1751.5" width="1228.3" height="107.5" fill="none" stroke="#000" stroke-width="3.2"/>
<rect x="243.5" y="2020" width="1071.3" height="108.3" fill="#fff" stroke="none"/>
<line x1="281" y1="2078.9" x2="481" y2="2078.9" stroke="#00FF00" stroke-width="8.5" stroke-linecap="round"/>
<text transform="translate(503.0,2109) scale(1,1.0)" font-size="89.5" fill="#000">P(S-MMA)/BN(bulk)</text>
<rect x="243.5" y="2020" width="1071.3" height="108.3" fill="none" stroke="#000" stroke-width="3.2"/>
<rect x="243.5" y="2236.5" width="1079.5" height="107.5" fill="#fff" stroke="none"/>
<line x1="281" y1="2294.3" x2="481" y2="2294.3" stroke="#FF0000" stroke-width="8.5" stroke-linecap="round"/>
<text transform="translate(503.0,2324.5) scale(1,1.0)" font-size="89.5" fill="#000">P(S-MMA)/CG(bulk)</text>
<rect x="243.5" y="2236.5" width="1079.5" height="107.5" fill="none" stroke="#000" stroke-width="3.2"/>
<rect x="245" y="2465" width="917.5" height="108.0" fill="#fff" stroke="none"/>
<line x1="281" y1="2522.7" x2="481" y2="2522.7" stroke="#000000" stroke-width="8.5" stroke-linecap="round"/>
<text transform="translate(503.0,2553) scale(1,1.0)" font-size="89.5" fill="#000">P(S-MMA)(bulk)</text>
<rect x="245" y="2465" width="917.5" height="108.0" fill="none" stroke="#000" stroke-width="3.2"/>
<text x="240.8" y="2857" font-size="72.5" text-anchor="middle" fill="#000" transform="">3500</text>
<text x="599.2" y="2857" font-size="72.5" text-anchor="middle" fill="#000" transform="">3000</text>
<text x="957.6" y="2857" font-size="72.5" text-anchor="middle" fill="#000" transform="">2500</text>
<text x="1316.0" y="2857" font-size="72.5" text-anchor="middle" fill="#000" transform="">2000</text>
<text x="1674.4" y="2857" font-size="72.5" text-anchor="middle" fill="#000" transform="">1500</text>
<text x="2032.8" y="2857" font-size="72.5" text-anchor="middle" fill="#000" transform="">1000</text>
<text transform="translate(854,3015.5) scale(1,1.0)" font-size="89.5" fill="#000">Wavenumber (cm<tspan font-size="52" dy="-46">-1</tspan><tspan dy="46" dx="3">)</tspan></text>
<text transform="translate(119,1428) rotate(-90) scale(1,1.0)" font-size="89.5" text-anchor="middle" fill="#000">% Transmittance</text>
</svg></body></html>
